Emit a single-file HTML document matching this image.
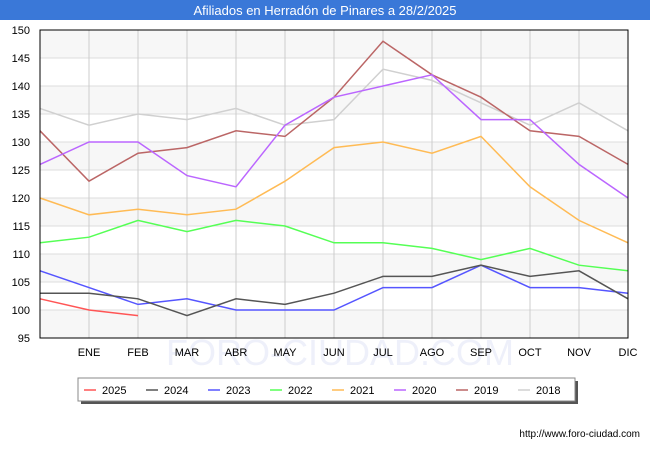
<!DOCTYPE html>
<html><head><meta charset="utf-8"><style>
body{margin:0;width:650px;height:450px;background:#fff;font-family:"Liberation Sans",sans-serif;overflow:hidden}
</style></head><body>
<svg width="650" height="450" id="c" style="font-family:'Liberation Sans',sans-serif">
<rect x="0" y="0" width="650" height="20" fill="#3a78d8"/>
<text x="325" y="15" text-anchor="middle" fill="#fff" font-size="13">Afiliados en Herradón de Pinares a 28/2/2025</text>
<text x="340" y="365" text-anchor="middle" fill="#eef0fa" font-size="36">FORO-CIUDAD.COM</text>
<text x="640" y="437" text-anchor="end" font-size="10" fill="#000">http://www.foro-ciudad.com</text>
</svg>
<script>
const months=["","ENE","FEB","MAR","ABR","MAY","JUN","JUL","AGO","SEP","OCT","NOV","DIC"];
const yTicks=[95,100,105,110,115,120,125,130,135,140,145,150];
const seriesNames=["2025","2024","2023","2022","2021","2020","2019","2018"];
const colors=["#ff5555","#555555","#5555ff","#55ff55","#ffbb55","#bb66ff","#bb6666","#d0d0d0"];
const s2025=[102,100,99];
const s2024=[103,103,102,99,102,101,103,106,106,108,106,107,102];
const s2023=[107,104,101,102,100,100,100,104,104,108,104,104,103];
const s2022=[112,113,116,114,116,115,112,112,111,109,111,108,107];
const s2021=[120,117,118,117,118,123,129,130,128,131,122,116,112];
const s2020=[126,130,130,124,122,133,138,140,142,134,134,126,120];
const s2019=[132,123,128,129,132,131,138,148,142,138,132,131,126];
const s2018=[136,133,135,134,136,133,134,143,141,137,133,137,132];
const series=[s2025,s2024,s2023,s2022,s2021,s2020,s2019,s2018];
const NS="http://www.w3.org/2000/svg",svg=document.getElementById('c');
const X0=40,X1=628,Y0=30,Y1=338;
const x=i=>X0+i*(X1-X0)/12;
const y=v=>Y1-(v-95)*(Y1-Y0)/55;
function mk(t,a){const e=document.createElementNS(NS,t);for(const k in a)e.setAttribute(k,a[k]);svg.appendChild(e);return e;}
for(let k=0;k<yTicks.length-1;k++){
 if(k%2==0){const r=mk('rect',{x:X0,y:y(yTicks[k+1]),width:X1-X0,height:y(yTicks[k])-y(yTicks[k+1]),fill:'#f7f7f7'});
 
 }
}
yTicks.forEach(v=>{
 const l=mk('line',{x1:X0,x2:X1,y1:y(v),y2:y(v),stroke:'#dddddd'});
 
 
 const t=mk('text',{x:X0-10,y:y(v)+4,'text-anchor':'end','font-size':11,fill:'#000'});t.textContent=v;
 
 
});
months.forEach((m,i)=>{
 if(i>0){const l=mk('line',{x1:x(i),x2:x(i),y1:Y0,y2:Y1,stroke:'#cccccc'});
 
 }
 const t=mk('text',{x:x(i),y:356,'text-anchor':'middle','font-size':11,fill:'#000'});t.textContent=m;
 
 
});
for(let s=series.length-1;s>=0;s--){
 const p=mk('polyline',{points:series[s].map((v,i)=>x(i)+','+y(v)).join(' '),fill:'none',stroke:colors[s],'stroke-width':1.5});
 
 
}
const fr=mk('rect',{x:X0,y:Y0,width:X1-X0,height:Y1-Y0,fill:'none',stroke:'#000'});


const sh=mk('rect',{x:81,y:381,width:497,height:23,fill:'#555'});


const lb=mk('rect',{x:78,y:378,width:497,height:23,fill:'#fff',stroke:'#888'});


seriesNames.forEach((n,i)=>{
 const lx=84+i*62;
 const l=mk('line',{x1:lx,x2:lx+12,y1:390,y2:390,stroke:colors[i],'stroke-width':1.5});
 
 
 const t=mk('text',{x:lx+18,y:394,'font-size':11,fill:'#000'});t.textContent=n;
 
 
});
</script>
</body></html>
